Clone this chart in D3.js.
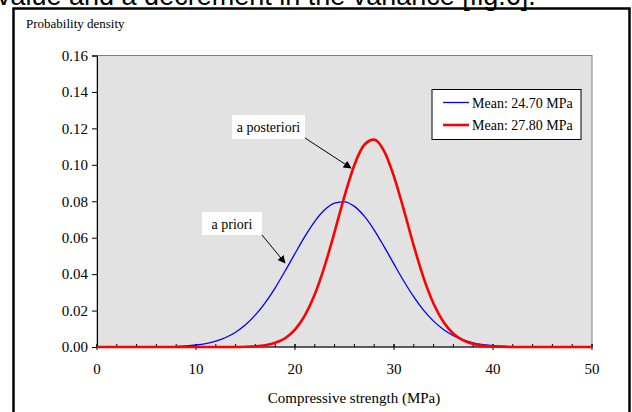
<!DOCTYPE html>
<html>
<head>
<meta charset="utf-8">
<script src="https://cdn.jsdelivr.net/npm/d3@7"></script>
<style>
  body { margin: 0; background: #fff; }
  svg { display: block; }
  text { font-family: "Liberation Serif", "Times New Roman", serif; fill: #000; }
</style>
</head>
<body>
<svg id="chart"></svg>
<script>
// a priori curve (blue)
const priorX = [8, 9, 10, 11, 12, 13, 14, 15, 16, 17, 18, 19, 20, 21, 22, 23, 24, 25,
  26, 27, 28, 29, 30, 31, 32, 33, 34, 35, 36, 37, 38, 39, 40, 41, 41.5];
const priorDensity = [0.0003, 0.0006, 0.0011, 0.0019, 0.0032, 0.0052, 0.0081, 0.0122, 0.0176,
  0.0244, 0.0325, 0.0417, 0.0513, 0.0607, 0.0690, 0.0753, 0.0790, 0.0797,
  0.0772, 0.0718, 0.0642, 0.0551, 0.0455, 0.0361, 0.0275, 0.0201, 0.0142, 0.0096,
  0.0062, 0.0039, 0.0023, 0.0013, 0.0007, 0.0004, 0.0003];

// a posteriori curve (red)
const posteriorX = [0, 14, 15, 16, 17, 18, 19, 20, 21, 22, 23, 24, 25, 26, 27, 28, 29, 30,
  31, 32, 33, 34, 35, 36, 37, 38, 39, 40, 41, 42, 50];
const posteriorDensity = [0, 0.00004, 0.00014, 0.0004, 0.001, 0.0023, 0.0048, 0.0095, 0.0173,
  0.0289, 0.0445, 0.0632, 0.0828, 0.0999, 0.1110, 0.1138, 0.1075, 0.0935,
  0.0751, 0.0555, 0.0378, 0.0237, 0.0137, 0.0073, 0.0036, 0.0016, 0.0007, 0.0003,
  0.0001, 0.00003, 0];

const legendLabels = ["Mean: 24.70 MPa", "Mean: 27.80 MPa"];
const seriesColors = ["#0000ff", "#ff0000"];
const yTicks = [0, 0.02, 0.04, 0.06, 0.08, 0.10, 0.12, 0.14, 0.16];
const xTicks = [0, 10, 20, 30, 40, 50];
const xMinorTicks = d3.range(0, 51, 2);

const svg = d3.select('#chart')
  .attr('width', 632)
  .attr('height', 412);

const plotLeft = 97, plotRight = 592, plotTop = 55.5, plotBottom = 347;

const x = d3.scaleLinear().domain([0, 50]).range([plotLeft, plotRight]);
const y = d3.scaleLinear().domain([0, 0.16]).range([plotBottom, plotTop]);

// caption text from the page, cut off at the top
svg.append('text')
  .attr('x', -3)
  .attr('y', 5)
  .style('font-family', '"Liberation Sans", Arial, sans-serif')
  .style('font-size', '27px')
  .text('value and a decrement in the variance [fig.6].');

// outer frame
svg.append('rect')
  .attr('x', 13.5).attr('y', 8.5)
  .attr('width', 616).attr('height', 420)
  .attr('fill', 'none')
  .attr('stroke', '#000')
  .attr('stroke-width', 2.5);

// plot area
svg.append('rect')
  .attr('x', plotLeft).attr('y', plotTop)
  .attr('width', plotRight - plotLeft).attr('height', plotBottom - plotTop)
  .attr('fill', '#e2e2e2')
  .attr('stroke', '#808080')
  .attr('stroke-width', 1);

svg.append('text')
  .attr('x', 26).attr('y', 28)
  .style('font-size', '13px')
  .text('Probability density');

// y axis
const yAxis = svg.append('g')
  .attr('transform', `translate(${plotLeft},0)`)
  .call(d3.axisLeft(y).tickValues(yTicks).tickFormat(d3.format('.2f')).tickSize(5).tickPadding(4));
yAxis.select('.domain').attr('stroke', '#000');
yAxis.selectAll('text')
  .style('font-family', '"Liberation Serif", "Times New Roman", serif')
  .style('font-size', '15px');

// x axis: minor ticks inside, major ticks crossing
const xAxis = svg.append('g');
xAxis.append('line')
  .attr('x1', plotLeft).attr('x2', plotRight)
  .attr('y1', plotBottom).attr('y2', plotBottom)
  .attr('stroke', '#000');
xAxis.selectAll('.minor')
  .data(xMinorTicks)
  .enter()
  .append('line')
  .attr('x1', d => x(d)).attr('x2', d => x(d))
  .attr('y1', plotBottom - 3).attr('y2', plotBottom)
  .attr('stroke', '#000');
xAxis.selectAll('.major')
  .data(xTicks)
  .enter()
  .append('line')
  .attr('x1', d => x(d)).attr('x2', d => x(d))
  .attr('y1', plotBottom - 3).attr('y2', plotBottom + 3)
  .attr('stroke', '#000');
xAxis.selectAll('.label')
  .data(xTicks)
  .enter()
  .append('text')
  .attr('x', d => x(d))
  .attr('y', plotBottom + 27)
  .attr('text-anchor', 'middle')
  .style('font-size', '15px')
  .text(d => d);

svg.append('text')
  .attr('x', 354).attr('y', 403)
  .attr('text-anchor', 'middle')
  .style('font-size', '15px')
  .text('Compressive strength (MPa)');

// curves
const line = d3.line()
  .x(d => x(d[0]))
  .y(d => y(d[1]))
  .curve(d3.curveMonotoneX);

svg.append('path')
  .datum(priorX.map((v, i) => [v, priorDensity[i]]))
  .attr('d', line)
  .attr('fill', 'none')
  .attr('stroke', seriesColors[0])
  .attr('stroke-width', 1.3);

svg.append('path')
  .datum(posteriorX.map((v, i) => [v, posteriorDensity[i]]))
  .attr('d', line)
  .attr('fill', 'none')
  .attr('stroke', seriesColors[1])
  .attr('stroke-width', 2.6);

// annotation arrows
svg.append('defs').append('marker')
  .attr('id', 'arrow')
  .attr('viewBox', '0 0 10 10')
  .attr('refX', 9).attr('refY', 5)
  .attr('markerWidth', 8).attr('markerHeight', 8)
  .attr('markerUnits', 'userSpaceOnUse')
  .attr('orient', 'auto')
  .append('path')
  .attr('d', 'M0,0L10,5L0,10Z')
  .attr('fill', '#000');

const notes = [
  { label: 'a posteriori', box: [232, 115, 73, 24], from: [305, 138], to: [351, 168] },
  { label: 'a priori', box: [202, 212, 60, 23], from: [262, 235], to: [285, 263] }
];

notes.forEach(n => {
  svg.append('rect')
    .attr('x', n.box[0]).attr('y', n.box[1])
    .attr('width', n.box[2]).attr('height', n.box[3])
    .attr('fill', '#fff');
  svg.append('text')
    .attr('x', n.box[0] + n.box[2] / 2)
    .attr('y', n.box[1] + n.box[3] / 2 + 5)
    .attr('text-anchor', 'middle')
    .style('font-size', '14px')
    .text(n.label);
  svg.append('line')
    .attr('x1', n.from[0]).attr('y1', n.from[1])
    .attr('x2', n.to[0]).attr('y2', n.to[1])
    .attr('stroke', '#000')
    .attr('stroke-width', 1)
    .attr('marker-end', 'url(#arrow)');
});

// legend
const legend = svg.append('g');
legend.append('rect')
  .attr('x', 432).attr('y', 89.5)
  .attr('width', 149).attr('height', 50)
  .attr('fill', '#fff')
  .attr('stroke', '#000')
  .attr('stroke-width', 1);
legendLabels.forEach((label, i) => {
  const ly = 102.5 + i * 22.5;
  legend.append('line')
    .attr('x1', 443).attr('x2', 469)
    .attr('y1', ly).attr('y2', ly)
    .attr('stroke', seriesColors[i])
    .attr('stroke-width', i === 0 ? 1.3 : 2.6);
  legend.append('text')
    .attr('x', 472).attr('y', ly + 5)
    .style('font-size', '14px')
    .text(label);
});
</script>
</body>
</html>
